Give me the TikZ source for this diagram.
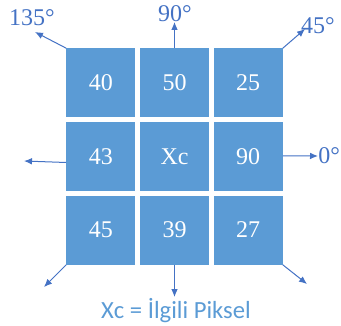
\documentclass[tikz,border=0pt]{standalone}
\usepackage{fontspec}
\setmainfont{Liberation Serif}
\newfontfamily\captionfont{Carlito}
\usetikzlibrary{
    positioning,
    arrows.meta
}
\definecolor{CellBlue}{RGB}{91,155,213}
\definecolor{ArrowBlue}{RGB}{68,114,196}

\begin{document}
\begin{tikzpicture}[
    x=0.75pt, y=0.75pt,
    node distance=3pt,
    cell/.style={rectangle, fill=CellBlue, minimum size=51.75pt, inner sep=0pt, text=white, font=\fontsize{18}{18}\selectfont},
    dirlabel/.style={text=ArrowBlue, inner sep=0pt, font=\fontsize{18}{18}\selectfont},
    arrow/.style={line width=0.75pt, color=ArrowBlue, -{Latex[length=6pt, width=5pt]}}
]
\useasboundingbox (-174.5,-168.5) rectangle (166.5,156.5);

% 3x3 pixel window
\node[cell] (xc) at (0,0) {Xc};
\node[cell, left=of xc] (w) {43};
\node[cell, right=of xc] (e) {90};
\node[cell, above=of xc] (n) {50};
\node[cell, below=of xc] (s) {39};
\node[cell, above=of w] (nw) {40};
\node[cell, above=of e] (ne) {25};
\node[cell, below=of w] (sw) {45};
\node[cell, below=of e] (se) {27};

% direction ends
\coordinate (d135) at (-139.5,124.5);
\coordinate (d90) at (0,134.5);
\coordinate (d45) at (130.5,127.5);
\coordinate (d0) at (143.5,0.5);
\coordinate (d180) at (-150.5,-4.5);
\coordinate (d225) at (-130.5,-130.5);
\coordinate (d270) at (0,-140.5);
\coordinate (d315) at (132.5,-127.5);

\draw[arrow] (nw.north west) -- (d135);
\draw[arrow] (n.north) -- (d90);
\draw[arrow] (ne.north east) -- (d45);
\draw[arrow] ([yshift=0.5]e.east) -- (d0);
\draw[arrow] ([yshift=-4.5]w.west) -- (d180);
\draw[arrow] (sw.south west) -- (d225);
\draw[arrow] (s.south) -- (d270);
\draw[arrow] (se.south east) -- (d315);

\node[dirlabel] (l135) at (-142.5,138.5) {135°};
\node[dirlabel] (l90) at (0.5,142.5) {90°};
\node[dirlabel] (l45) at (143.5,130.5) {45°};
\node[dirlabel, anchor=west] (l0) at (d0) {0°};

\node[text=CellBlue, font=\captionfont\fontsize{18.5}{18.5}\selectfont] (caption) at (1.5,-154.5) {Xc = İlgili Piksel};
\end{tikzpicture}
\end{document}
